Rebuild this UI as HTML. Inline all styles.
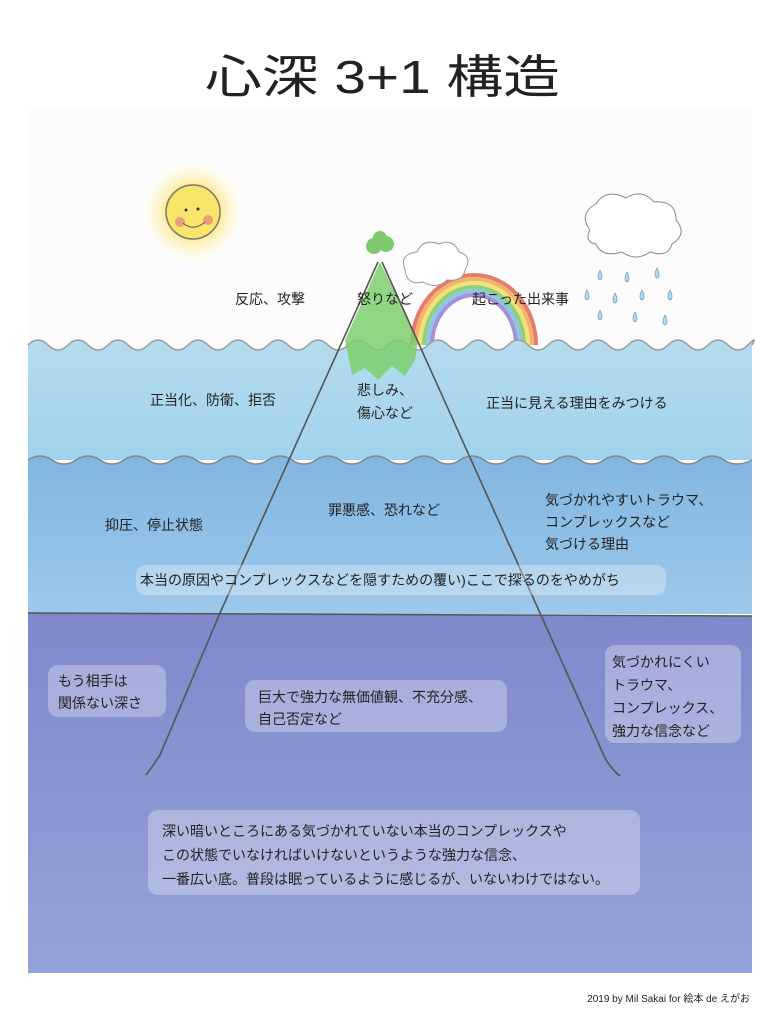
<!DOCTYPE html>
<html><head><meta charset="utf-8"><style>
html,body{margin:0;padding:0;background:#fff;width:783px;height:1023px;overflow:hidden}
svg{display:block}
text{font-family:"Liberation Sans","Noto Sans CJK JP",sans-serif;fill:#222}
</style></head><body>
<svg width="783" height="1023" viewBox="0 0 783 1023" xmlns="http://www.w3.org/2000/svg">
<defs>
<radialGradient id="sg"><stop offset="0.45" stop-color="#fbe98a"/><stop offset="1" stop-color="#fff" stop-opacity="0"/></radialGradient>
<linearGradient id="l1" x1="0" y1="0" x2="0" y2="1"><stop offset="0" stop-color="#b3dcee"/><stop offset="1" stop-color="#a3d2ee"/></linearGradient>
<linearGradient id="l2" x1="0" y1="0" x2="0" y2="1"><stop offset="0" stop-color="#82b6e0"/><stop offset="1" stop-color="#9cc8ea"/></linearGradient>
<linearGradient id="l3" x1="0" y1="0" x2="0" y2="1"><stop offset="0" stop-color="#7f88cc"/><stop offset="1" stop-color="#95a2d8"/></linearGradient>
</defs>
<rect x="28" y="110" width="724" height="240" fill="#fdfcfc"/>
<text x="205" y="93" font-size="46" font-weight="400" textLength="355" lengthAdjust="spacingAndGlyphs" fill="#222">心深 3+1 構造</text>
<!-- sun -->
<circle cx="193" cy="212" r="55" fill="url(#sg)"/>
<circle cx="193" cy="212" r="27" fill="#f8e56a" stroke="#777" stroke-width="1.5"/>
<circle cx="180" cy="222" r="5" fill="#e9a07a"/><circle cx="208" cy="220" r="5" fill="#e9a07a"/>
<circle cx="186" cy="210" r="1.5" fill="#333"/><circle cx="198" cy="209" r="1.5" fill="#333"/>
<path d="M183 223 Q193 232 205 222" stroke="#555" fill="none"/>
<!-- rainbow -->
<g fill="none" stroke-width="4">
<path d="M412 345 A62 70 0 0 1 536 345" stroke="#e57a6a"/>
<path d="M416 345 A58 66 0 0 1 532 345" stroke="#f2b46a"/>
<path d="M420 345 A54 62 0 0 1 528 345" stroke="#f3e27a"/>
<path d="M424 345 A50 58 0 0 1 524 345" stroke="#8fd07a"/>
<path d="M428 345 A46 54 0 0 1 520 345" stroke="#8cc4ea"/>
<path d="M432 345 A42 50 0 0 1 516 345" stroke="#a58fd6"/>
</g>
<!-- cloud by mountain -->
<path d="M405 270 q-6 -16 12 -18 q6 -14 22 -8 q14 -6 20 8 q14 4 6 18 q-2 12 -18 10 q-10 10 -24 2 q-16 4 -18 -12z" fill="#fff" stroke="#999"/>
<!-- rain cloud -->
<path d="M590 230 q-12 -16 6 -26 q10 -16 30 -6 q16 -10 28 4 q22 -2 22 18 q12 14 -4 24 q-4 14 -22 8 q-14 10 -28 0 q-20 6 -26 -8 q-12 -2 -6 -14z" fill="#fff" stroke="#888"/>
<g fill="#b8dcec" stroke="#6aa0c0" stroke-width="0.8">
<path d="M600 270 q-4 8 0 10 q4 -2 0 -10z"/><path d="M627 272 q-4 8 0 10 q4 -2 0 -10z"/><path d="M657 268 q-4 8 0 10 q4 -2 0 -10z"/>
<path d="M587 290 q-4 8 0 10 q4 -2 0 -10z"/><path d="M615 293 q-4 8 0 10 q4 -2 0 -10z"/><path d="M642 290 q-4 8 0 10 q4 -2 0 -10z"/><path d="M670 290 q-4 8 0 10 q4 -2 0 -10z"/>
<path d="M600 310 q-4 8 0 10 q4 -2 0 -10z"/><path d="M635 312 q-4 8 0 10 q4 -2 0 -10z"/><path d="M665 315 q-4 8 0 10 q4 -2 0 -10z"/>
</g>
<!-- layers -->
<path d="M28 345 q10 -10 20 0 t20 0 t20 0 t20 0 t20 0 t20 0 t20 0 t20 0 t20 0 t20 0 t20 0 t20 0 t20 0 t20 0 t20 0 t20 0 t20 0 t20 0 t20 0 t20 0 t20 0 t20 0 t20 0 t20 0 t20 0 t20 0 t20 0 t20 0 t20 0 t20 0 t20 0 t20 0 t20 0 t20 0 t20 0 t20 0 t4 0 V460 H28z" fill="url(#l1)"/>
<path d="M28 345 q10 -10 20 0 t20 0 t20 0 t20 0 t20 0 t20 0 t20 0 t20 0 t20 0 t20 0 t20 0 t20 0 t20 0 t20 0 t20 0 t20 0 t20 0 t20 0 t20 0 t20 0 t20 0 t20 0 t20 0 t20 0 t20 0 t20 0 t20 0 t20 0 t20 0 t20 0 t20 0 t20 0 t20 0 t20 0 t20 0 t20 0 t4 0" fill="none" stroke="#999" stroke-width="1.5"/>
<path d="M28 460 q12 -8 24 0 t24 0 t24 0 t24 0 t24 0 t24 0 t24 0 t24 0 t24 0 t24 0 t24 0 t24 0 t24 0 t24 0 t24 0 t24 0 t24 0 t24 0 t24 0 t24 0 t24 0 t24 0 t24 0 t24 0 t24 0 t24 0 t24 0 t24 0 t24 0 t28 0 V614 H28z" fill="url(#l2)"/>
<path d="M28 460 q12 -8 24 0 t24 0 t24 0 t24 0 t24 0 t24 0 t24 0 t24 0 t24 0 t24 0 t24 0 t24 0 t24 0 t24 0 t24 0 t24 0 t24 0 t24 0 t24 0 t24 0 t24 0 t24 0 t24 0 t24 0 t24 0 t24 0 t24 0 t24 0 t24 0 t28 0" fill="none" stroke="#888" stroke-width="1.5"/>
<path d="M28 613 L752 616 V973 H28z" fill="url(#l3)"/>
<path d="M28 613 L752 616" stroke="#555" stroke-width="1.5"/>
<!-- mountain green -->
<path d="M380 262 L345 340 L352 375 L365 368 L378 380 L392 366 L405 376 L415 360 L418 340 Z" fill="#7ccf6e" opacity="0.85"/>
<circle cx="374" cy="246" r="8" fill="#7fc96e"/><circle cx="386" cy="244" r="8" fill="#7fc96e"/><circle cx="380" cy="238" r="7" fill="#7fc96e"/>
<!-- mountain lines -->
<path d="M378 262 L220 613 L160 755 Q150 770 146 775" stroke="#555" stroke-width="1.6" fill="none"/>
<path d="M382 262 L540 613 L605 758 Q612 770 620 776" stroke="#555" stroke-width="1.6" fill="none"/>
<!-- boxes -->
<g fill="#fff" fill-opacity="0.3">
<rect x="136" y="565" width="530" height="30" rx="10"/>
<rect x="48" y="665" width="118" height="52" rx="10"/>
<rect x="245" y="680" width="262" height="52" rx="10"/>
<rect x="605" y="645" width="136" height="98" rx="10"/>
<rect x="148" y="810" width="492" height="85" rx="10"/>
</g>
<g font-size="14">
<text x="235" y="304">反応、攻撃</text>
<text x="357" y="304">怒りなど</text>
<text x="472" y="304">起こった出来事</text>
<text x="150" y="405">正当化、防衛、拒否</text>
<text x="357" y="395">悲しみ、</text>
<text x="357" y="418">傷心など</text>
<text x="486" y="408">正当に見える理由をみつける</text>
<text x="328" y="515">罪悪感、恐れなど</text>
<text x="105" y="530">抑圧、停止状態</text>
<text x="545" y="505">気づかれやすいトラウマ、</text>
<text x="545" y="527">コンプレックスなど</text>
<text x="545" y="549">気づける理由</text>
<text x="140" y="585">本当の原因やコンプレックスなどを隠すための覆い)ここで探るのをやめがち</text>
<text x="58" y="686">もう相手は</text>
<text x="58" y="708">関係ない深さ</text>
<text x="258" y="702">巨大で強力な無価値観、不充分感、</text>
<text x="258" y="724">自己否定など</text>
<text x="612" y="667">気づかれにくい</text>
<text x="612" y="690">トラウマ、</text>
<text x="612" y="713">コンプレックス、</text>
<text x="612" y="736">強力な信念など</text>
<text x="162" y="836">深い暗いところにある気づかれていない本当のコンプレックスや</text>
<text x="162" y="860">この状態でいなければいけないというような強力な信念、</text>
<text x="162" y="884">一番広い底。普段は眠っているように感じるが、いないわけではない。</text>
</g>
<text x="750" y="1002" font-size="10" text-anchor="end" fill="#444">2019 by Mil Sakai for 絵本 de えがお</text>
</svg>
</body></html>
